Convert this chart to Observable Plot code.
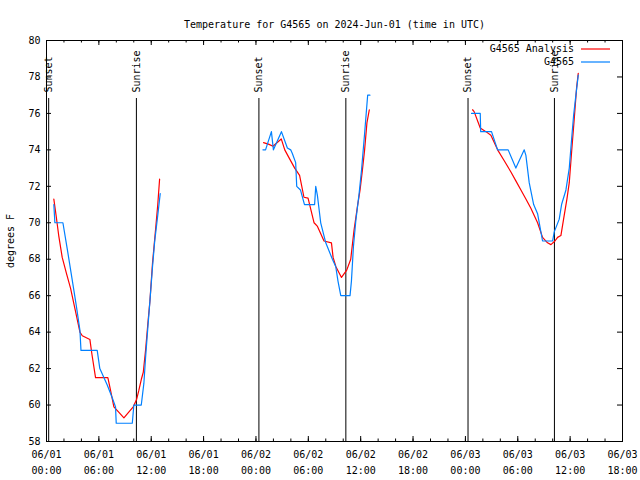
<!DOCTYPE html>
<html>
<head>
<meta charset="utf-8">
<script src="https://cdn.jsdelivr.net/npm/d3@7"></script>
<script src="https://cdn.jsdelivr.net/npm/@observablehq/plot@0.6"></script>
<style>
  html, body { margin: 0; padding: 0; background: #fff; }
  #chart { position: relative; width: 640px; height: 480px; }
</style>
</head>
<body>
<div id="chart"></div>
<script>
// Hours since 2024-06-01 00:00 UTC, temperature in °F
const analysisNight1 = [[0.84,71.3],[1.1,70.4],[1.4,69.3],[1.8,68.1],[2.3,67.2],[2.76,66.4],[3.3,65.2],[3.83,64.0],[4.1,63.8],[4.97,63.6],[5.2,62.8],[5.62,61.5],[7.03,61.5],[7.34,60.8],[7.72,59.9],[8.3,59.6],[8.87,59.3],[9.4,59.6],[9.94,59.9],[10.32,60.3],[10.58,60.8],[10.86,61.4],[11.09,61.8],[11.35,63.0],[11.62,64.5],[11.85,65.7],[12.15,67.8],[12.53,69.8],[12.75,71.0],[12.96,72.4]];
const analysisNight2 = [[24.87,74.4],[25.5,74.3],[25.95,74.2],[26.9,74.6],[27.3,74.0],[27.75,73.6],[28.44,73.0],[29.0,72.6],[29.5,71.4],[29.97,71.35],[30.66,70.0],[31.05,69.8],[31.8,69.0],[32.65,68.9],[32.84,68.1],[33.15,67.6],[33.8,67.0],[34.4,67.4],[34.86,68.0],[35.24,69.6],[35.63,70.9],[35.93,71.8],[36.2,72.9],[36.45,74.0],[36.72,75.5],[36.99,76.2]];
const analysisNight3 = [[48.82,76.2],[49.0,76.1],[49.7,75.2],[50.35,75.0],[50.92,74.8],[51.69,74.0],[52.45,73.4],[53.2,72.8],[53.78,72.3],[54.36,71.8],[54.93,71.3],[55.5,70.8],[56.27,70.0],[56.84,69.2],[57.41,68.9],[57.8,68.8],[58.26,69.0],[58.56,69.2],[58.94,69.3],[59.25,70.2],[59.63,71.3],[59.9,72.2],[60.17,73.9],[60.47,75.7],[60.74,77.4],[60.93,78.2]];

const obsNight1 = [[0.84,71.0],[0.96,70.0],[1.88,70.0],[2.4,68.5],[2.9,67.0],[3.4,65.5],[3.83,64.1],[3.95,63.0],[5.81,63.0],[6.11,62.0],[6.96,61.1],[7.53,60.4],[7.91,59.9],[7.99,59.0],[9.83,59.0],[10.01,60.0],[10.86,60.0],[11.16,61.2],[11.35,62.6],[11.62,64.3],[11.85,65.7],[12.15,67.6],[12.4,69.0],[12.72,70.3],[13.03,71.6]];
const obsNight2 = [[24.8,74.0],[25.1,74.0],[25.77,75.0],[26.0,74.0],[26.92,75.0],[27.6,74.1],[27.98,74.0],[28.17,73.8],[28.55,73.3],[28.67,72.0],[29.1,71.8],[29.56,71.0],[30.72,71.0],[30.85,72.0],[31.04,71.5],[31.42,70.0],[32.0,68.9],[32.76,68.0],[33.14,67.6],[33.4,66.8],[33.72,66.0],[34.78,66.0],[34.94,66.8],[35.17,68.7],[35.44,70.1],[35.82,71.6],[36.1,72.9],[36.45,74.9],[36.8,77.0],[37.06,77.0]];
const obsNight3 = [[48.7,76.0],[49.7,76.0],[49.75,75.0],[50.99,75.0],[51.69,74.0],[52.9,74.0],[53.78,73.0],[54.74,74.0],[54.93,73.7],[55.31,72.2],[55.82,71.0],[56.27,70.5],[56.84,69.0],[57.99,69.0],[58.18,69.5],[58.75,70.2],[59.02,71.0],[59.52,71.8],[59.9,73.0],[60.17,74.6],[60.4,75.9],[60.66,77.0],[60.93,78.1]];

const sunsetHours = [0.25, 24.34, 48.3];
const sunriseHours = [10.3, 34.3, 58.2];
const yTicks = [58,60,62,64,66,68,70,72,74,76,78,80];
const xMajorHours = [0,6,12,18,24,30,36,42,48,54,60,66];
const xMinorHours = d3.range(0, 67, 2);

const seriesNames = ["G4565 Analysis", "G4565"];
const seriesColors = ["#ff0000", "#0080ff"];
const titleText = "Temperature for G4565 on 2024-Jun-01 (time in UTC)";
const yLabel = "degrees F";

const base = Date.UTC(2024, 5, 1);
const toDate = h => new Date(base + h * 3600e3);

function rows(nights, series) {
  const out = [];
  nights.forEach((n, i) => n.forEach(([h, t]) => out.push({date: toDate(h), temp: t, night: i, series})));
  return out;
}
const analysis = rows([analysisNight1, analysisNight2, analysisNight3], seriesNames[0]);
const obs = rows([obsNight1, obsNight2, obsNight3], seriesNames[1]);

const W = 640, H = 480, mL = 46, mR = 18, mT = 40, mB = 39;
const fh = H - mT - mB, fw = W - mL - mR;
const fmt = d3.utcFormat("%m/%d\n%H:%M");
const font = "DejaVu Sans Mono";

const plot = Plot.plot({
  width: W, height: H,
  marginLeft: mL, marginRight: mR, marginTop: mT, marginBottom: mB,
  style: {fontFamily: font, fontSize: "10px", color: "black", background: "white"},
  x: {type: "utc", domain: [toDate(0), toDate(66)], axis: null},
  y: {domain: [58, 80], axis: null},
  marks: [
    // inward ticks
    Plot.tickY(yTicks, {y: d => d, insetRight: fw - 5, stroke: "black"}),
    Plot.tickY(yTicks, {y: d => d, insetLeft: fw - 5, stroke: "black"}),
    Plot.tickX(xMajorHours.map(toDate), {x: d => d, insetTop: fh - 5, stroke: "black"}),
    Plot.tickX(xMajorHours.map(toDate), {x: d => d, insetBottom: fh - 5, stroke: "black"}),
    Plot.tickX(xMinorHours.map(toDate), {x: d => d, insetTop: fh - 2.5, stroke: "black"}),
    Plot.tickX(xMinorHours.map(toDate), {x: d => d, insetBottom: fh - 2.5, stroke: "black"}),
    // sunset / sunrise
    Plot.ruleX(sunsetHours.concat(sunriseHours).map(toDate), {x: d => d, insetTop: 58, stroke: "black", strokeWidth: 1}),
    Plot.text(sunsetHours.map(toDate), {x: d => d, text: () => "Sunset", frameAnchor: "top", dy: 52, dx: -4, rotate: -90, textAnchor: "start", fill: "black", fontFamily: font, fontSize: 10}),
    Plot.text(sunriseHours.map(toDate), {x: d => d, text: () => "Sunrise", frameAnchor: "top", dy: 52, dx: -4, rotate: -90, textAnchor: "start", fill: "black", fontFamily: font, fontSize: 10}),
    // series
    Plot.line(analysis, {x: "date", y: "temp", z: "night", stroke: seriesColors[0], strokeWidth: 1.2, curve: "linear"}),
    Plot.line(obs, {x: "date", y: "temp", z: "night", stroke: seriesColors[1], strokeWidth: 1.2, curve: "linear"}),
    Plot.frame({stroke: "black"}),
    // tick labels
    Plot.text(yTicks, {y: d => d, text: d => String(d), frameAnchor: "left", dx: -6, textAnchor: "end", fill: "black", fontFamily: font, fontSize: 10}),
    Plot.text(xMajorHours.map(toDate), {x: d => d, text: d => fmt(d), frameAnchor: "bottom", lineAnchor: "top", dy: 5, lineHeight: 1.6, textAnchor: "middle", fill: "black", fontFamily: font, fontSize: 10}),
    // axis label and title
    Plot.text([yLabel], {text: d => d, frameAnchor: "left", dx: -36, rotate: -90, textAnchor: "middle", fill: "black", fontFamily: font, fontSize: 10}),
    Plot.text([titleText], {text: d => d, frameAnchor: "top", dy: -20, textAnchor: "middle", fill: "black", fontFamily: font, fontSize: 10})
  ]
});
document.getElementById("chart").appendChild(plot);

// legend (top right, inside frame)
const svg = d3.select(plot);
const lg = svg.append("g").attr("font-family", font).attr("font-size", 10);
seriesNames.forEach((name, i) => {
  const y = 49 + i * 13;
  lg.append("text").attr("x", 574).attr("y", y).attr("dy", "0.32em").attr("text-anchor", "end").attr("fill", "black").text(name);
  lg.append("line").attr("x1", 581).attr("x2", 610).attr("y1", y).attr("y2", y).attr("stroke", seriesColors[i]).attr("stroke-width", 1.2);
});
</script>
</body>
</html>
